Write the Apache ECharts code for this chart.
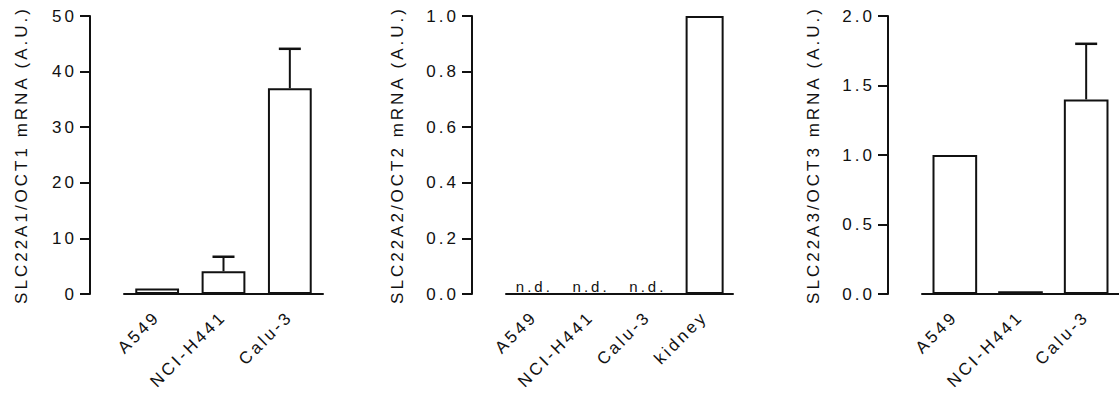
<!DOCTYPE html>
<html>
<head>
<meta charset="utf-8">
<script src="https://cdn.jsdelivr.net/npm/echarts@6/dist/echarts.min.js"></script>
<style>
  html, body { margin: 0; padding: 0; background: #fff; }
  #chart { width: 1119px; height: 397px; letter-spacing: 3px; }
</style>
</head>
<body>
<div id="chart"></div>
<script>
// OCT1
const oct1Cats = ['A549', 'NCI-H441', 'Calu-3']
const oct1Mean = [1.0, 4.1, 37.0]
const oct1Upper = [null, 6.7, 44.1]
const oct1Ticks = [0, 10, 20, 30, 40, 50]

// OCT2
const oct2Cats = ['A549', 'NCI-H441', 'Calu-3', 'kidney']
const oct2Mean = [null, null, null, 1.0]
const oct2NotDetected = ['A549', 'NCI-H441', 'Calu-3']
const oct2Ticks = [0, 0.2, 0.4, 0.6, 0.8, 1.0]

// OCT3
const oct3Cats = ['A549', 'NCI-H441', 'Calu-3']
const oct3Mean = [1.0, 0.02, 1.4]
const oct3Upper = [null, null, 1.8]
const oct3Ticks = [0, 0.5, 1.0, 1.5, 2.0]

const black = '#111'
const font = 'Liberation Sans, Arial, sans-serif'
const fs = 17

const grids = [
  {left: 124, top: 16, width: 199, height: 278},
  {left: 506, top: 16, width: 227, height: 278},
  {left: 922, top: 16, width: 199, height: 278}
]

const makeXAxis = (idx, cats) => ({
  type: 'category',
  gridIndex: idx,
  data: cats,
  axisLine: {lineStyle: {color: black, width: 2}},
  axisTick: {alignWithLabel: true, length: 10, lineStyle: {color: black, width: 2}},
  axisLabel: {rotate: 45, margin: 20, fontSize: fs, color: black, fontFamily: font}
})

const makeYAxis = (idx, ticks, name, gap, digits) => ({
  type: 'value',
  gridIndex: idx,
  min: ticks[0],
  max: ticks[ticks.length - 1],
  interval: ticks[1] - ticks[0],
  offset: 34,
  name: name,
  nameLocation: 'middle',
  nameGap: gap,
  nameTextStyle: {fontSize: fs, color: black, fontFamily: font},
  splitLine: {show: false},
  axisLine: {show: true, lineStyle: {color: black, width: 2}},
  axisTick: {show: true, length: 10, lineStyle: {color: black, width: 2}},
  axisLabel: {
    margin: 13, fontSize: fs, color: black, fontFamily: font,
    formatter: (v) => v.toFixed(digits)
  }
})

const makeBars = (idx, values, width) => ({
  type: 'bar',
  xAxisIndex: idx,
  yAxisIndex: idx,
  data: values,
  barWidth: width,
  itemStyle: {color: '#fff', borderColor: black, borderWidth: 2},
  silent: true,
  animation: false
})

const makeErrors = (idx, means, uppers) => {
  const data = []
  uppers.forEach((u, i) => {
    if (u != null) data.push([i, means[i], u])
  })
  return {
    type: 'custom',
    xAxisIndex: idx,
    yAxisIndex: idx,
    data: data,
    z: 1,
    animation: false,
    renderItem: (params, api) => {
      const p0 = api.coord([api.value(0), api.value(1)])
      const p1 = api.coord([api.value(0), api.value(2)])
      return {
        type: 'group',
        children: [
          {type: 'line', shape: {x1: p0[0], y1: p0[1], x2: p1[0], y2: p1[1]}, style: {stroke: black, lineWidth: 2}},
          {type: 'line', shape: {x1: p1[0] - 11, y1: p1[1], x2: p1[0] + 11, y2: p1[1]}, style: {stroke: black, lineWidth: 2.5}}
        ]
      }
    }
  }
}

const chart = echarts.init(document.getElementById('chart'), null, {renderer: 'svg'})

const option = {
  backgroundColor: '#fff',
  animation: false,
  grid: grids,
  xAxis: [
    makeXAxis(0, oct1Cats),
    makeXAxis(1, oct2Cats),
    makeXAxis(2, oct3Cats)
  ],
  yAxis: [
    makeYAxis(0, oct1Ticks, 'SLC22A1/OCT1 mRNA (A.U.)', 60, 0),
    makeYAxis(1, oct2Ticks, 'SLC22A2/OCT2 mRNA (A.U.)', 66, 1),
    makeYAxis(2, oct3Ticks, 'SLC22A3/OCT3 mRNA (A.U.)', 66, 1)
  ],
  series: [
    makeBars(0, oct1Mean, '66%'),
    makeErrors(0, oct1Mean, oct1Upper),
    makeBars(1, oct2Mean, '67%'),
    {
      type: 'scatter',
      xAxisIndex: 1,
      yAxisIndex: 1,
      data: oct2NotDetected.map((c) => [c, 0]),
      symbolSize: 0,
      silent: true,
      label: {
        show: true,
        position: 'top',
        distance: 0,
        formatter: 'n.d.',
        fontSize: 15,
        color: black,
        opacity: 1,
        fontFamily: font
      }
    },
    makeBars(2, oct3Mean, '68%'),
    makeErrors(2, oct3Mean, oct3Upper)
  ]
}

chart.setOption(option)
</script>
</body>
</html>
